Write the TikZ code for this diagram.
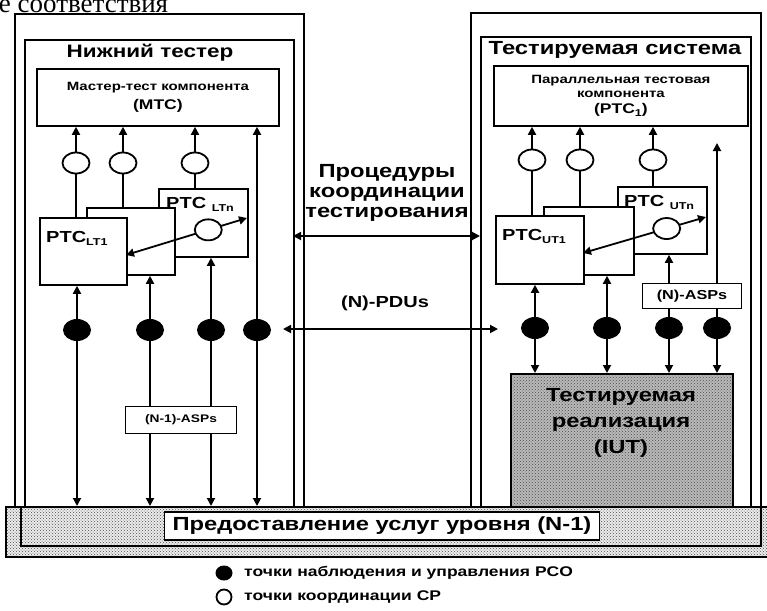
\documentclass[tikz,border=0pt]{standalone}
\usepackage{fontspec}
\newfontfamily\lbl{Liberation Sans}[FakeStretch=1.25]
\newfontfamily\hdr{Liberation Serif}
\usetikzlibrary{arrows.meta,shapes.geometric,patterns}
\newcommand\lowidx[1]{\raisebox{-3pt}{\fontsize{10}{10}\selectfont#1}}

\begin{document}
\begin{tikzpicture}[x=1pt, y=-1pt, line width=1.8pt,
  txt/.style={font=\lbl\bfseries\fontsize{#1}{#1}\selectfont},
  frame/.style={draw, line width=1.8pt, anchor=north west},
  unit/.style={draw, fill=white, anchor=north west, inner sep=2pt},
  cpt/.style={ellipse, draw, fill=white, minimum width=27pt, minimum height=21pt, inner sep=0pt},
  pco/.style={ellipse, fill=black, minimum width=28pt, minimum height=22pt, inner sep=0pt},
  msg/.style={draw, fill=white, inner sep=3pt},
  grain/.style={preaction={fill=#1}, pattern=crosshatch dots, pattern color=black!70},
  link/.style={-{Triangle[length=8pt,width=8pt]}},
  dlink/.style={{Triangle[length=8pt,width=8pt]}-{Triangle[length=8pt,width=8pt]}}]
\clip (0,0) rectangle (767,610);

% service band at the bottom
\node[draw, grain=gray!15, anchor=north west, minimum width=762pt, minimum height=50pt] (band) at (5,506) {};
\node[draw, anchor=north west, minimum width=740pt, minimum height=39pt] (bandIn) at (20,506) {};
\node[msg, txt=19, minimum width=435pt, minimum height=28pt] (svc) at (382,526) {Предоставление услуг уровня (N-1)};

% the two testers
\node[frame, minimum width=289pt, minimum height=493pt] (lowOut) at (14,13) {};
\node[frame, minimum width=269pt, minimum height=467pt] (lowIn) at (24,39) {};
\node[frame, minimum width=290pt, minimum height=494pt] (sutOut) at (470,12) {};
\node[frame, minimum width=270pt, minimum height=470pt] (sutIn) at (480,36) {};
\node[txt=18] (lowTitle) at (150,53) {Нижний тестер};
\node[txt=19] (sutTitle) at (615,50) {Тестируемая система};

\node[unit, txt=12, minimum width=242pt, minimum height=57pt, align=center] (mtc) at (36,68)
  {Мастер-тест компонента\\[5pt]{\fontsize{14}{14}\selectfont (MTC)}};
\node[unit, txt=12, minimum width=254pt, minimum height=60pt, align=center] (ptc1) at (493,65)
  {Параллельная тестовая\\[2pt]компонента\\[4pt]{\fontsize{14}{14}\selectfont (PTC\lowidx{1})}};

% lower tester PTCs
\node[unit, minimum width=89pt, minimum height=68pt] (ltn) at (158,188) {};
\node[unit, minimum width=88pt, minimum height=67pt] (ltm) at (86,207) {};
\node[unit, minimum width=87pt, minimum height=67pt] (lt1) at (39,217) {};
\node[txt=16, anchor=north west] (ltnLbl) at (162,193) {PTC \lowidx{LTn}};
\node[txt=16, anchor=north west] (lt1Lbl) at (42,227) {PTC\lowidx{LT1}};
\coordinate (lt1r) at (126,255);
\coordinate (ltnr) at (247,218);
\draw[dlink] (lt1r) -- node[cpt, pos=0.68] (cpLn) {} (ltnr);

% system under test PTCs
\node[unit, minimum width=89pt, minimum height=67pt] (utn) at (617,186) {};
\node[unit, minimum width=90pt, minimum height=68pt] (utm) at (543,206) {};
\node[unit, minimum width=88pt, minimum height=68pt] (ut1) at (495,215) {};
\node[txt=16, anchor=north west] (utnLbl) at (620,191) {PTC \lowidx{UTn}};
\node[txt=16, anchor=north west] (ut1Lbl) at (498,225) {PTC\lowidx{UT1}};
\coordinate (ut1r) at (583,253);
\coordinate (utnr) at (706,217);
\draw[dlink] (ut1r) -- node[cpt, pos=0.68] (cpUn) {} (utnr);

% implementation under test
\node[draw, grain=gray!55, anchor=north west, minimum width=222pt, minimum height=133pt] (iut) at (510,373) {};
\node[txt=19, align=center] (iutTxt) at (621,423) {Тестируемая\\[7pt]реализация\\[7pt](IUT)};

% coordination points
\foreach \n/\x/\b in {1/76/lt1, 2/123/ltm, 3/195/ltn} {
  \node[cpt] (cpL\n) at (\x,163) {};
  \draw[link] (cpL\n) -- (cpL\n |- mtc.south);
  \draw (cpL\n |- \b.north) -- (cpL\n);
}
\foreach \n/\x/\b in {1/532/ut1, 2/580/utm, 3/653/utn} {
  \node[cpt] (cpU\n) at (\x,160) {};
  \draw[link] (cpU\n) -- (cpU\n |- ptc1.south);
  \draw (cpU\n |- \b.north) -- (cpU\n);
}

% points of control and observation
\foreach \n/\x/\b in {1/77/lt1, 2/150/ltm, 3/211/ltn, 4/257/mtc} {
  \node[pco] (pcoL\n) at (\x,330) {};
  \draw[dlink] (pcoL\n |- band.north) -- (pcoL\n |- \b.south);
}
\coordinate (tipU) at (717,143);
\foreach \n/\x/\b in {1/535/ut1, 2/607/utm, 3/669/utn, 4/717/tipU} {
  \node[pco] (pcoU\n) at (\x,328) {};
  \draw[dlink] (pcoU\n |- iut.north) -- (pcoU\n |- \b.south);
}
\node[msg, txt=11, minimum width=111pt, minimum height=27pt] (lasp) at (181,420) {(N-1)-ASPs};
\node[msg, txt=13, minimum width=99pt, minimum height=25pt] (uasp) at (692,296) {(N)-ASPs};

% between the testers
\node[txt=19, align=center] (coTxt) at (387,193) {Процедуры\\[1pt]координации\\[1pt]тестирования};
\coordinate (coL) at (293,236);
\coordinate (coR) at (480,236);
\draw[dlink] (coL) -- (coR);
\node[txt=16] (pduTxt) at (385,303) {(N)-PDUs};
\coordinate (pduL) at (283,329);
\coordinate (pduR) at (498,329);
\draw[dlink] (pduL) -- (pduR);

% legend
\node[pco, minimum width=17pt, minimum height=15pt] (legPco) at (224,573) {};
\node[txt=14, anchor=west] (legPcoTxt) at (240,573) {точки наблюдения и управления PCO};
\node[cpt, minimum width=15pt, minimum height=15pt] (legCp) at (224,597) {};
\node[txt=14, anchor=west] (legCpTxt) at (240,597) {точки координации CP};

\node[font=\hdr\fontsize{27}{27}\selectfont, anchor=base west, inner sep=0pt] (head) at (-2,13) {е соответствия};
\end{tikzpicture}
\end{document}
